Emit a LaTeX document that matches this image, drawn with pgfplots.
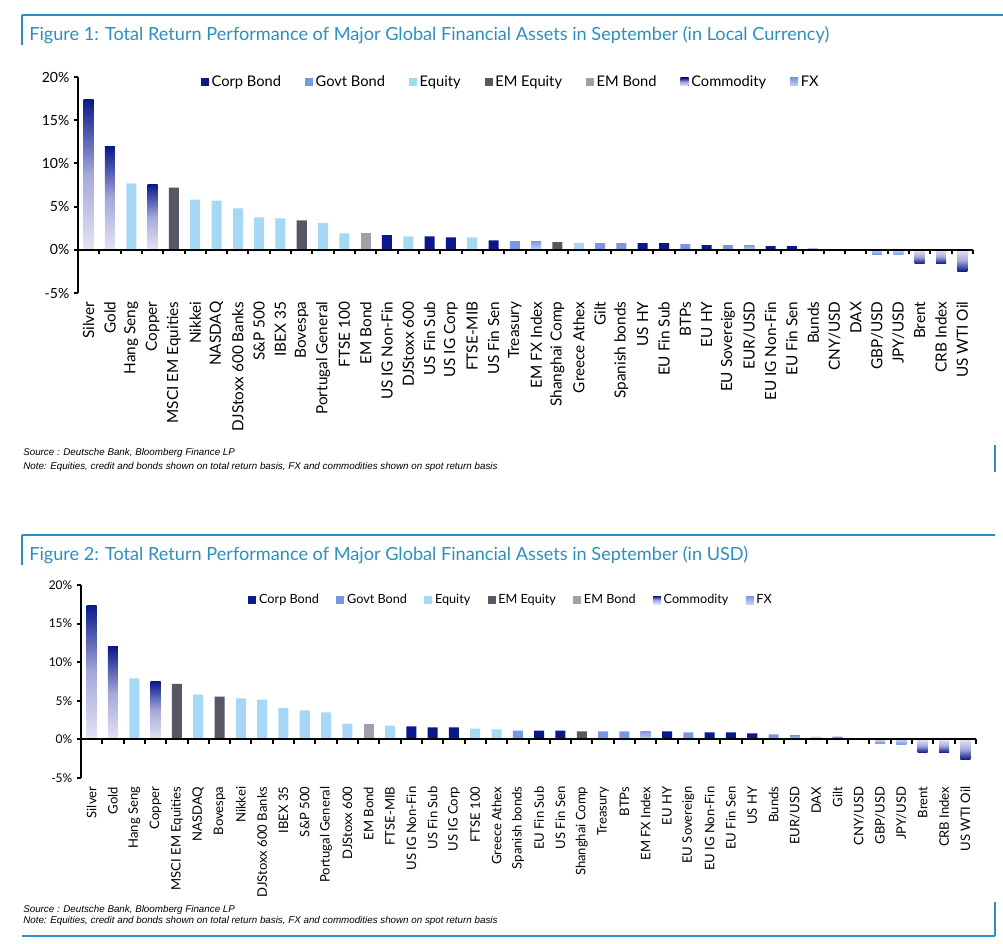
\documentclass[border=0pt]{standalone}
\usepackage{pgfplots}
\pgfplotsset{compat=1.18}
\usepackage{fontspec}
\setmainfont{Lato}
\newfontfamily\notefont{Liberation Sans}

\definecolor{corp}{RGB}{10,24,140}
\definecolor{govt}{RGB}{122,152,226}
\definecolor{equity}{RGB}{166,216,245}
\definecolor{emeq}{RGB}{88,88,100}
\definecolor{embond}{RGB}{160,160,170}
\definecolor{comlight}{RGB}{228,228,243}
\definecolor{commid}{RGB}{165,168,218}
\definecolor{fxlight}{RGB}{196,212,244}
\definecolor{frame}{RGB}{43,143,191}

\pgfplotsset{
  bar/.style={ybar, bar width=0.47, bar shift=0pt, draw=none},
  corpbar/.style={bar, fill=corp},
  govtbar/.style={bar, fill=govt},
  eqbar/.style={bar, fill=equity},
  emeqbar/.style={bar, fill=emeq},
  embbar/.style={bar, fill=embond},
  % shaded bars: one plot per bar so that each bar gets its own gradient
  compos/.style={bar, top color=corp, bottom color=comlight, middle color=commid},
  comneg/.style={bar, top color=comlight, bottom color=corp, middle color=commid, forget plot},
  fxpos/.style={bar, top color=govt, bottom color=fxlight},
  fxneg/.style={bar, top color=fxlight, bottom color=govt, forget plot},
  chart/.style={
    scale only axis, width=671.25pt, clip=false,
    xmin=-0.5, xmax=41.5, ymin=-5, ymax=20,
    axis x line*=bottom, axis y line*=left,
    x axis line style={draw=none},
    xtick={0,...,41}, xtick style={draw=none},
    ytick={-5,0,5,10,15,20},
    yticklabel={\pgfmathprintnumber{\tick}\%},
    /pgf/number format/assume math mode=true,
    y axis line style={line width=1.5pt},
    ytick style={line width=1.5pt, black},
    tick align=outside, major tick length=3pt,
    legend columns=-1,
    legend image code/.code={\fill[##1] (0pt,-3pt) rectangle (6pt,3pt);},
    legend cell align=left,
  },
}

\begin{document}
\begin{tikzpicture}
\useasboundingbox (0,0) rectangle (752.25pt,-707.25pt);

\begin{scope}[x=0.75pt, y=-0.75pt]
  % figure 1 frame and text
  \draw[frame, line width=2.2pt] (22,15) -- (1003,15);
  \draw[frame, line width=1.5pt] (22,15) -- (22,45);
  \node[anchor=base west, inner sep=0, text=frame, font=\fontsize{13.6}{15}\selectfont] at (29,40)
    {Figure 1: Total Return Performance of Major Global Financial Assets in September (in Local Currency)};
  \node[anchor=base west, inner sep=0, font=\notefont\itshape\fontsize{7.35}{8}\selectfont] at (23,455)
    {Source : Deutsche Bank, Bloomberg Finance LP};
  \node[anchor=base west, inner sep=0, font=\notefont\itshape\fontsize{7.35}{8}\selectfont] at (23,469)
    {Note: Equities, credit and bonds shown on total return basis, FX and commodities shown on spot return basis};
  \draw[frame, line width=1.5pt] (995,445) -- (995,472);

  % figure 2 frame and text
  \draw[frame, line width=2.2pt] (22,535) -- (995,535);
  \draw[frame, line width=1.5pt] (22,535) -- (22,565);
  \node[anchor=base west, inner sep=0, text=frame, font=\fontsize{13.6}{15}\selectfont] at (29,560)
    {Figure 2: Total Return Performance of Major Global Financial Assets in September (in USD)};
  \node[anchor=base west, inner sep=0, font=\notefont\itshape\fontsize{7.35}{8}\selectfont] at (23,912)
    {Source : Deutsche Bank, Bloomberg Finance LP};
  \node[anchor=base west, inner sep=0, font=\notefont\itshape\fontsize{7.35}{8}\selectfont] at (23,923)
    {Note: Equities, credit and bonds shown on total return basis, FX and commodities shown on spot return basis};
  \draw[frame, line width=1.8pt] (22,936) -- (995,936);
  \draw[frame, line width=1.5pt] (995,902) -- (995,936);
\end{scope}

% Figure 1: local currency
\begin{axis}[chart,
  at={(58.5pt,-219.75pt)}, anchor=south west, height=162pt,
  xticklabels={Silver, Gold, Hang Seng, Copper, MSCI EM Equities, Nikkei, NASDAQ, DJStoxx 600 Banks, S\&P 500, IBEX 35, Bovespa, Portugal General, FTSE 100, EM Bond, US IG Non-Fin, DJStoxx 600, US Fin Sub, US IG Corp, FTSE-MIB, US Fin Sen, Treasury, EM FX Index, Shanghai Comp, Greece Athex, Gilt, Spanish bonds, US HY, EU Fin Sub, BTPs, EU HY, EU Sovereign, EUR/USD, EU IG Non-Fin, EU Fin Sen, Bunds, CNY/USD, DAX, GBP/USD, JPY/USD, Brent, CRB Index, US WTI Oil},
  xticklabel style={rotate=90, anchor=east, font=\fontsize{11.5}{12}\selectfont},
  yticklabel style={font=\fontsize{10.5}{12}\selectfont},
  legend style={at={(0.484,0.977)}, anchor=center, draw=none, fill=none,
    font=\fontsize{11}{12}\selectfont,
    /tikz/every even column/.append style={column sep=16pt}},
]
\addplot[corpbar] coordinates {(14,1.7) (16,1.55) (17,1.45) (19,1.1) (26,0.77) (27,0.77) (29,0.55) (32,0.42) (33,0.42)};
\addplot[govtbar] coordinates {(20,1.0) (24,0.77) (25,0.77) (28,0.65) (30,0.55) (34,0.18)};
\addplot[eqbar] coordinates {(2,7.7) (5,5.8) (6,5.7) (7,4.8) (8,3.75) (9,3.65) (11,3.1) (12,1.9) (15,1.55) (18,1.45) (23,0.77) (36,0.02)};
\addplot[emeqbar] coordinates {(4,7.2) (10,3.4) (22,0.9)};
\addplot[embbar] coordinates {(13,1.9)};
\addplot[compos] coordinates {(0,17.4)};
\addplot[fxpos] coordinates {(21,1.0)};
\addplot[compos, forget plot] coordinates {(1,11.9)};
\addplot[compos, forget plot] coordinates {(3,7.55)};
\addplot[fxpos, forget plot] coordinates {(31,0.55)};
\addplot[fxpos, forget plot] coordinates {(35,0.12)};
\addplot[fxneg] coordinates {(37,-0.5)};
\addplot[fxneg] coordinates {(38,-0.6)};
\addplot[comneg] coordinates {(39,-1.6)};
\addplot[comneg] coordinates {(40,-1.6)};
\addplot[comneg] coordinates {(41,-2.5)};
\legend{Corp Bond, Govt Bond, Equity, EM Equity, EM Bond, Commodity, FX}
\draw[line width=1.5pt] (axis cs:-0.5,0) -- (axis cs:41.5,0);
\pgfplotsinvokeforeach{0.5,1.5,...,41.5}{\draw[line width=1.5pt] (axis cs:#1,0) -- ([yshift=-3.5pt]axis cs:#1,0);}
\end{axis}

% Figure 2: USD
\begin{axis}[chart,
  at={(60.75pt,-583.5pt)}, anchor=south west, height=144.75pt,
  xticklabels={Silver, Gold, Hang Seng, Copper, MSCI EM Equities, NASDAQ, Bovespa, Nikkei, DJStoxx 600 Banks, IBEX 35, S\&P 500, Portugal General, DJStoxx 600, EM Bond, FTSE-MIB, US IG Non-Fin, US Fin Sub, US IG Corp, FTSE 100, Greece Athex, Spanish bonds, EU Fin Sub, US Fin Sen, Shanghai Comp, Treasury, BTPs, EM FX Index, EU HY, EU Sovereign, EU IG Non-Fin, EU Fin Sen, US HY, Bunds, EUR/USD, DAX, Gilt, CNY/USD, GBP/USD, JPY/USD, Brent, CRB Index, US WTI Oil},
  xticklabel style={rotate=90, anchor=east, font=\fontsize{9.8}{11}\selectfont},
  yticklabel style={font=\fontsize{9}{11}\selectfont},
  legend style={at={(0.481,0.922)}, anchor=center, draw=none, fill=none,
    font=\fontsize{9.5}{11}\selectfont,
    /tikz/every even column/.append style={column sep=11pt}},
]
\addplot[corpbar] coordinates {(15,1.7) (16,1.55) (17,1.55) (21,1.15) (22,1.15) (27,1.05) (29,0.9) (30,0.9) (31,0.77)};
\addplot[govtbar] coordinates {(20,1.15) (24,1.05) (25,1.05) (28,0.9) (32,0.65) (35,0.35)};
\addplot[eqbar] coordinates {(2,7.9) (5,5.8) (7,5.3) (8,5.15) (9,4.1) (10,3.75) (11,3.5) (12,2.05) (14,1.8) (18,1.4) (19,1.3) (34,0.35)};
\addplot[emeqbar] coordinates {(4,7.2) (6,5.55) (23,1.05)};
\addplot[embbar] coordinates {(13,1.95)};
\addplot[compos] coordinates {(0,17.4)};
\addplot[fxpos] coordinates {(26,1.05)};
\addplot[compos, forget plot] coordinates {(1,12.0)};
\addplot[compos, forget plot] coordinates {(3,7.5)};
\addplot[fxpos, forget plot] coordinates {(33,0.5)};
\addplot[fxpos, forget plot] coordinates {(36,0.15)};
\addplot[fxneg] coordinates {(37,-0.5)};
\addplot[fxneg] coordinates {(38,-0.65)};
\addplot[comneg] coordinates {(39,-1.7)};
\addplot[comneg] coordinates {(40,-1.7)};
\addplot[comneg] coordinates {(41,-2.6)};
\legend{Corp Bond, Govt Bond, Equity, EM Equity, EM Bond, Commodity, FX}
\draw[line width=1.5pt] (axis cs:-0.5,0) -- (axis cs:41.5,0);
\pgfplotsinvokeforeach{0.5,1.5,...,41.5}{\draw[line width=1.5pt] (axis cs:#1,0) -- ([yshift=-3.5pt]axis cs:#1,0);}
\end{axis}
\end{tikzpicture}
\end{document}
